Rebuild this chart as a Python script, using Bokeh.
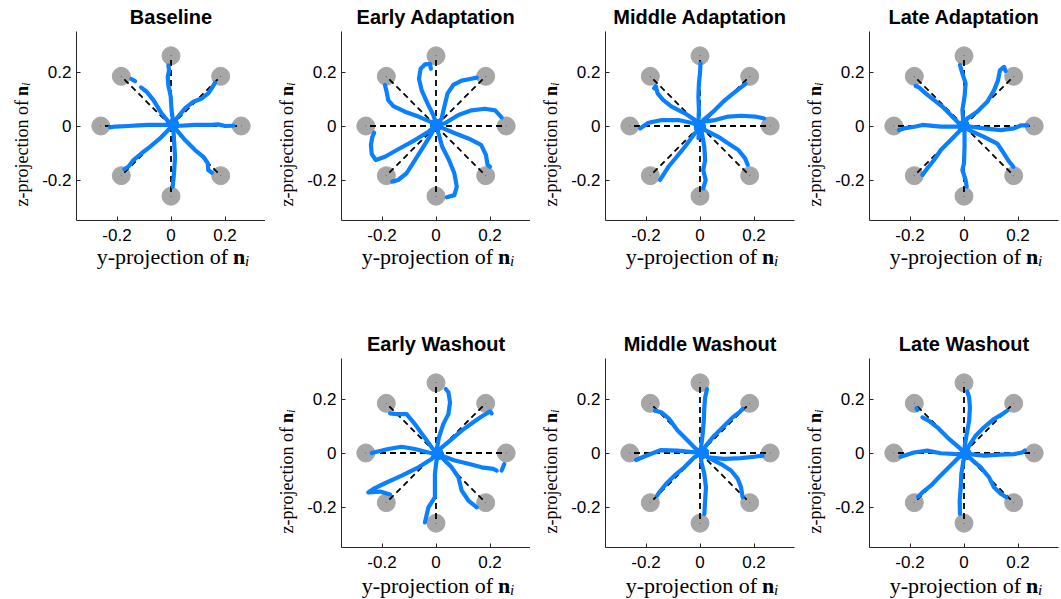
import numpy as np
from bokeh.plotting import figure
from bokeh.models import Range1d, FixedTicker, Label, Spacer
from bokeh.layouts import row, column
from bokeh.embed import file_html
from bokeh.resources import INLINE

nan = float("nan")

titles = ["Baseline", "Early Adaptation", "Middle Adaptation", "Late Adaptation",
          "Early Washout", "Middle Washout", "Late Washout"]

target_x = [0.26, 0.184, 0.0, -0.184, -0.26, -0.184, 0.0, 0.184]
target_y = [0.0, 0.184, 0.26, 0.184, 0.0, -0.184, -0.26, -0.184]
origin_x = [0.0] * 8
origin_y = [0.0] * 8

axis_lim = 0.35
tick_values = [-0.2, 0, 0.2]
tick_labels = ["-0.2", "0", "0.2"]

# hand trajectories (y- and z-projection), one list per target
baseline_x = [
    [0.008, 0.009, 0.002, -0.001, -0.010, -0.012, -0.007, -0.010],
    [0.008, 0.021, 0.052, 0.083, 0.114, 0.138, 0.153, 0.163],
    [0.008, 0.021, 0.089, 0.151, 0.175, 0.200, 0.231],
    [0.008, 0.021, 0.052, 0.089, 0.120, 0.136, 0.138, 0.151],
    [0.008, 0.009, 0.012, 0.015, 0.012, 0.009, 0.006],
    [0.008, -0.010, -0.041, -0.078, -0.109, -0.139, -0.158, -0.173],
    [0.008, -0.022, -0.084, -0.121, -0.158, -0.207, -0.226],
    [0.008, -0.010, -0.035, -0.065, -0.090, -0.111, nan, -0.133, -0.147],
]
baseline_y = [
    [0.005, 0.010, 0.059, 0.109, 0.152, 0.183, 0.207, 0.225],
    [0.005, 0.028, 0.065, 0.090, 0.102, 0.121, 0.143, 0.160],
    [0.005, 0.000, 0.004, 0.004, 0.006, 0.000, 0.001],
    [0.005, -0.015, -0.052, -0.089, -0.114, -0.138, -0.163, -0.173],
    [0.005, -0.015, -0.064, -0.114, -0.163, -0.198, -0.225],
    [0.005, -0.015, -0.046, -0.077, -0.101, -0.126, -0.151, -0.160],
    [0.005, 0.004, 0.004, 0.002, 0.000, -0.002, -0.005],
    [0.005, 0.016, 0.047, 0.096, 0.127, 0.143, nan, 0.166, 0.174],
]

early_adapt_x = [
    [0.002, -0.010, -0.031, -0.053, -0.063, -0.057, -0.041, -0.022, -0.019],
    [0.002, 0.021, 0.031, 0.043, 0.064, 0.095, 0.126, 0.151],
    [0.002, 0.033, 0.083, 0.132, 0.181, 0.219, 0.243],
    [0.002, 0.027, 0.070, 0.120, 0.167, 0.185, 0.191, 0.200],
    [0.002, 0.009, 0.023, 0.048, 0.068, 0.077, 0.068, 0.040],
    [0.002, -0.016, -0.047, -0.078, -0.109, -0.140, -0.162],
    [0.002, -0.028, -0.078, -0.140, -0.189, -0.223, -0.238, -0.241, -0.236, -0.229],
    [0.002, -0.022, -0.065, -0.115, -0.158, -0.177, -0.183, -0.189],
]
early_adapt_y = [
    [0.004, 0.040, 0.083, 0.132, 0.175, 0.212, 0.228, 0.230, 0.212],
    [0.004, 0.028, 0.072, 0.121, 0.152, 0.168, 0.174, 0.179],
    [0.004, 0.010, 0.041, 0.058, 0.064, 0.058, 0.032],
    [0.004, -0.009, -0.027, -0.046, -0.070, -0.107, -0.144, -0.151],
    [0.004, -0.027, -0.077, -0.126, -0.175, -0.225, -0.256, -0.264],
    [0.004, -0.027, -0.077, -0.126, -0.175, -0.200, -0.206],
    [0.004, -0.021, -0.052, -0.086, -0.114, -0.126, -0.104, -0.070, -0.040, -0.025],
    [0.004, 0.016, 0.035, 0.053, 0.074, 0.096, 0.127, 0.152],
]

middle_adapt_x = [
    [0.000, -0.006, -0.004, -0.006, -0.004, 0.000, 0.002],
    [0.000, 0.012, 0.049, 0.086, 0.123, 0.148, 0.169],
    [0.000, 0.012, 0.056, 0.105, 0.154, 0.204, 0.238],
    [0.000, 0.019, 0.068, 0.105, 0.142, 0.167, 0.177],
    [0.000, -0.006, 0.006, 0.016, 0.019, 0.012, 0.021, 0.012],
    [0.000, -0.019, -0.056, -0.086, -0.117, -0.136, -0.148],
    [0.000, -0.025, -0.080, -0.142, -0.191, -0.222],
    [0.000, -0.019, -0.056, -0.105, -0.136, -0.157, -0.164, -0.170],
]
middle_adapt_y = [
    [-0.005, 0.010, 0.059, 0.109, 0.158, 0.195, 0.232],
    [-0.005, 0.022, 0.053, 0.090, 0.121, 0.140, 0.156],
    [-0.005, 0.016, 0.022, 0.035, 0.038, 0.035, 0.028],
    [-0.005, -0.015, -0.040, -0.065, -0.089, -0.120, -0.144],
    [-0.005, -0.045, -0.021, -0.077, -0.126, -0.163, -0.200, -0.231],
    [-0.005, -0.027, -0.077, -0.114, -0.151, -0.181, -0.200],
    [-0.005, 0.010, 0.022, 0.022, 0.012, -0.009],
    [-0.005, 0.022, 0.047, 0.072, 0.096, 0.121, 0.148, 0.140],
]

late_adapt_x = [
    [-0.002, -0.002, -0.006, 0.002, 0.006, -0.006, -0.015],
    [-0.002, 0.012, 0.049, 0.086, 0.111, 0.126, 0.133, 0.148, 0.154],
    [-0.002, 0.019, 0.074, 0.136, 0.185, 0.210, 0.235],
    [-0.002, 0.019, 0.074, 0.123, 0.148, 0.167, 0.183],
    [-0.002, 0.002, 0.002, 0.000, -0.006, 0.006, 0.010],
    [-0.002, -0.019, -0.049, -0.086, -0.111, -0.136, -0.154],
    [-0.002, -0.025, -0.086, -0.154, -0.179, -0.222, -0.241],
    [-0.002, -0.019, -0.049, -0.080, -0.111, -0.142, -0.167, -0.179],
]
late_adapt_y = [
    [0.000, 0.010, 0.059, 0.109, 0.158, 0.195, 0.226],
    [0.000, 0.028, 0.053, 0.090, 0.132, 0.169, 0.206, 0.219, 0.204],
    [0.000, -0.002, -0.009, -0.015, -0.009, 0.002, 0.002],
    [0.000, -0.015, -0.040, -0.065, -0.102, -0.132, -0.151],
    [0.000, -0.021, -0.077, -0.138, -0.163, -0.200, -0.225],
    [0.000, -0.021, -0.052, -0.089, -0.126, -0.157, -0.181],
    [0.000, -0.002, -0.002, 0.004, -0.002, -0.009, -0.015],
    [0.000, 0.010, 0.041, 0.072, 0.096, 0.121, 0.143, 0.148],
]

early_wash_x = [
    [0.006, 0.002, 0.011, 0.027, 0.046, 0.052, 0.046, 0.036],
    [0.006, 0.015, 0.052, 0.095, 0.138, 0.169, 0.200, 0.206],
    [0.006, 0.021, 0.070, 0.120, 0.169, 0.212, 0.225, nan, 0.243, 0.253],
    [0.006, 0.021, 0.058, 0.083, 0.095, 0.120, 0.151],
    [0.006, 0.002, -0.004, -0.004, -0.004, -0.028, -0.041],
    [0.006, -0.016, -0.065, -0.127, -0.189, -0.232, -0.251, -0.207, -0.170],
    [0.006, -0.028, -0.078, -0.127, -0.177, -0.238],
    [0.006, -0.016, -0.047, -0.078, -0.109, -0.146, -0.170],
]
early_wash_y = [
    [-0.004, 0.009, 0.058, 0.107, 0.144, 0.188, 0.225, 0.237],
    [-0.004, 0.015, 0.046, 0.083, 0.114, 0.135, 0.154, 0.147],
    [-0.004, -0.010, -0.028, -0.040, -0.053, -0.059, -0.065, nan, -0.065, -0.041],
    [-0.004, -0.016, -0.053, -0.090, -0.139, -0.176, -0.201],
    [-0.004, -0.028, -0.077, -0.126, -0.163, -0.201, -0.257],
    [-0.004, -0.022, -0.053, -0.084, -0.112, -0.133, -0.146, -0.143, -0.154],
    [-0.004, 0.002, 0.015, 0.023, 0.015, 0.000],
    [-0.004, 0.021, 0.064, 0.107, 0.144, 0.144, 0.147],
]

middle_wash_x = [
    [0.010, 0.004, 0.010, 0.014, 0.016, 0.019, 0.026],
    [0.010, 0.022, 0.053, 0.090, 0.121, 0.146, 0.158],
    [0.010, 0.028, 0.090, 0.152, 0.201, 0.232],
    [0.010, 0.028, 0.078, 0.115, 0.140, 0.152, 0.158],
    [0.010, 0.004, 0.016, 0.022, 0.019, 0.016],
    [0.010, -0.021, -0.058, -0.095, -0.126, -0.151, -0.159],
    [0.010, -0.021, -0.083, -0.144, -0.200, -0.237],
    [0.010, -0.015, -0.046, -0.083, -0.114, -0.144, -0.167],
]
middle_wash_y = [
    [0.002, 0.021, 0.070, 0.119, 0.169, 0.206, 0.237],
    [0.002, 0.027, 0.064, 0.101, 0.132, 0.151, 0.163],
    [0.002, -0.016, -0.022, -0.019, -0.014, -0.010],
    [0.002, -0.016, -0.041, -0.065, -0.096, -0.127, -0.164],
    [0.002, -0.028, -0.078, -0.127, -0.176, -0.226],
    [0.002, -0.016, -0.053, -0.084, -0.115, -0.146, -0.158],
    [0.002, 0.002, 0.009, 0.011, -0.010, -0.026],
    [0.002, 0.015, 0.046, 0.083, 0.126, 0.151, 0.157],
]

late_wash_x = [
    [0.006, 0.002, 0.010, 0.019, 0.022, 0.019, 0.012],
    [0.006, 0.019, 0.043, 0.074, 0.111, 0.142, 0.160],
    [0.006, 0.019, 0.074, 0.136, 0.185, 0.216, 0.225],
    [0.006, 0.019, 0.062, 0.093, 0.111, 0.136, 0.157],
    [0.006, -0.002, -0.010, -0.012, -0.016, -0.015],
    [0.006, -0.019, -0.056, -0.093, -0.123, -0.154, -0.170],
    [0.006, -0.025, -0.086, -0.136, -0.185, -0.235],
    [0.006, -0.019, -0.062, -0.099, -0.130, -0.154, nan, -0.173, -0.176],
]
late_wash_y = [
    [-0.004, 0.021, 0.070, 0.119, 0.169, 0.206, 0.228],
    [-0.004, 0.027, 0.064, 0.095, 0.126, 0.144, 0.157],
    [-0.004, -0.004, -0.010, -0.006, -0.004, 0.002, 0.009],
    [-0.004, -0.016, -0.053, -0.090, -0.127, -0.151, -0.164],
    [-0.004, -0.028, -0.078, -0.127, -0.176, -0.226],
    [-0.004, -0.016, -0.053, -0.090, -0.121, -0.146, -0.162],
    [-0.004, -0.004, -0.001, 0.009, 0.002, -0.014],
    [-0.004, 0.021, 0.058, 0.095, 0.119, 0.132, nan, 0.160, 0.166],
]

BLUE = "#0A80FF"
GRAY = "#A6A6A6"
AXC = "#262626"

FIG_W = 265
BOX = 189                       # axes box size in px
PX = BOX / (2 * axis_lim)       # px per data unit


def make_panel(title, xs, ys, left, height, top, xlab_dy):
    right = FIG_W - BOX - left
    bottom = height - BOX - top
    xr = Range1d(-axis_lim - left / PX, axis_lim + right / PX)
    yr = Range1d(-axis_lim - bottom / PX, axis_lim + top / PX)
    p = figure(width=FIG_W, height=height, x_range=xr, y_range=yr,
               output_backend="svg", toolbar_location=None,
               min_border=0, min_border_left=0, min_border_right=0,
               min_border_top=0, min_border_bottom=0)
    p.outline_line_color = None
    p.grid.visible = False
    p.background_fill_color = "white"
    p.border_fill_color = "white"
    for ax in (p.xaxis, p.yaxis):
        ax.fixed_location = -axis_lim
        ax.bounds = (-axis_lim, axis_lim)
        ax.ticker = FixedTicker(ticks=tick_values)
        ax.major_label_overrides = dict(zip(tick_values, tick_labels))
        ax.axis_line_color = AXC
        ax.axis_line_width = 1
        ax.major_tick_line_color = AXC
        ax.major_tick_in = 4
        ax.major_tick_out = 0
        ax.minor_tick_line_color = None
        ax.major_label_text_font = "Liberation Sans"
        ax.major_label_text_font_size = "17px"
        ax.major_label_text_color = "black"
    p.xaxis.major_label_standoff = 8
    p.yaxis.major_label_standoff = 5

    p.scatter(target_x, target_y, size=18, color=GRAY)
    p.segment(x0=origin_x, y0=origin_y, x1=target_x, y1=target_y,
              line_color="black", line_width=1.8, line_dash="6 4")
    for x, y in zip(xs, ys):
        p.line(np.array(x), np.array(y), line_color=BLUE, line_width=4.2,
               line_cap="round", line_join="round")
    p.scatter([x[0] for x in xs], [y[0] for y in ys], size=11, color=BLUE)

    p.add_layout(Label(x=0, y=axis_lim, y_offset=15, text=title, text_align="center",
                       text_baseline="alphabetic", text_font="Liberation Sans",
                       text_font_style="bold", text_font_size="20px",
                       text_color="black"))
    # x label: y-projection of n_i
    p.add_layout(Label(x=0, y=-axis_lim, x_offset=57, y_offset=-xlab_dy,
                       text="y-projection of", text_align="right",
                       text_baseline="alphabetic", text_font="Liberation Serif",
                       text_font_size="22px", text_color="black"))
    p.add_layout(Label(x=0, y=-axis_lim, x_offset=62, y_offset=-xlab_dy,
                       text="n", text_align="left", text_baseline="alphabetic",
                       text_font="Liberation Serif", text_font_style="bold",
                       text_font_size="22px", text_color="black"))
    p.add_layout(Label(x=0, y=-axis_lim, x_offset=74, y_offset=-xlab_dy - 4,
                       text="i", text_align="left", text_baseline="alphabetic",
                       text_font="Liberation Serif", text_font_style="italic",
                       text_font_size="15px", text_color="black"))
    # y label: z-projection of n_i
    ang = np.pi / 2
    p.add_layout(Label(x=-axis_lim, y=0, x_offset=-55, y_offset=26, angle=ang,
                       text="z-projection of", text_align="right",
                       text_baseline="alphabetic", text_font="Liberation Serif",
                       text_font_size="18px", text_color="black"))
    p.add_layout(Label(x=-axis_lim, y=0, x_offset=-55, y_offset=30, angle=ang,
                       text="n", text_align="left", text_baseline="alphabetic",
                       text_font="Liberation Serif", text_font_style="bold",
                       text_font_size="18px", text_color="black"))
    p.add_layout(Label(x=-axis_lim, y=0, x_offset=-51.5, y_offset=40, angle=ang,
                       text="i", text_align="left", text_baseline="alphabetic",
                       text_font="Liberation Serif", text_font_style="italic",
                       text_font_size="13px", text_color="black"))
    return p


data = [(baseline_x, baseline_y), (early_adapt_x, early_adapt_y),
        (middle_adapt_x, middle_adapt_y), (late_adapt_x, late_adapt_y),
        (early_wash_x, early_wash_y), (middle_wash_x, middle_wash_y),
        (late_wash_x, late_wash_y)]

top_lefts = [76, 76, 75, 74]
bot_lefts = [76, 75, 74]

top_row = [make_panel(titles[i], data[i][0], data[i][1], top_lefts[i], 300, 31, 36)
           for i in range(4)]
bot_row = [make_panel(titles[4 + i], data[4 + i][0], data[4 + i][1], bot_lefts[i], 299, 58, 38)
           for i in range(3)]

layout = column(row(*top_row), row(Spacer(width=FIG_W, height=299), *bot_row))

open("out.html", "w").write(file_html(layout, INLINE))
